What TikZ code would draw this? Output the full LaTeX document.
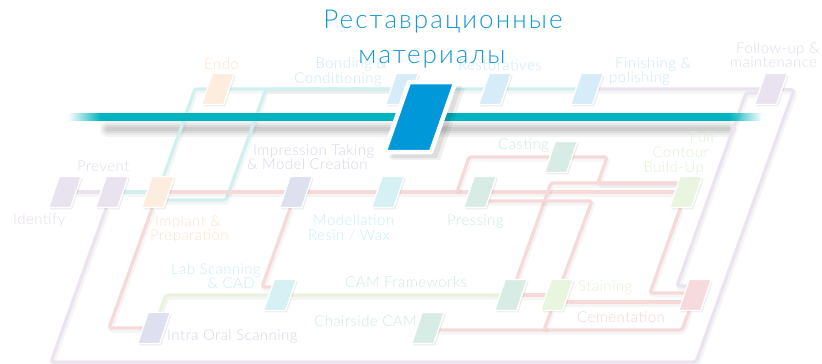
\documentclass[tikz,border=0pt]{standalone}
\usepackage{fontspec}
\setmainfont{Lato}
\newfontfamily\titlefont{Lato Light}[LetterSpace=8]
\newfontfamily\labfont{Lato Light}[LetterSpace=3]
\usetikzlibrary{calc,fadings}
% station fills
\definecolor{sLilac}{RGB}{233,227,239}
\definecolor{sPeach}{RGB}{253,237,222}
\definecolor{sBlue}{RGB}{214,236,248}
\definecolor{sLav}{RGB}{222,224,240}
\definecolor{sCyan}{RGB}{213,241,244}
\definecolor{sMint}{RGB}{215,236,228}
\definecolor{sGreen}{RGB}{233,245,223}
\definecolor{sPink}{RGB}{246,218,221}
% line colours
\definecolor{lLilac}{RGB}{235,228,240}
\definecolor{lTeal}{RGB}{208,240,240}
\definecolor{lRed}{RGB}{247,217,217}
\definecolor{lGreen}{RGB}{232,244,222}
% text colours
\definecolor{tLilac}{RGB}{226,218,234}
\definecolor{tPeach}{RGB}{252,226,204}
\definecolor{tBlue}{RGB}{204,230,248}
\definecolor{tLav}{RGB}{212,214,234}
\definecolor{tCyan}{RGB}{202,236,242}
\definecolor{tMint}{RGB}{206,232,222}
\definecolor{tGreen}{RGB}{226,241,212}
\definecolor{tPink}{RGB}{246,210,214}
% accents
\definecolor{cTitle}{RGB}{20,152,215}
\definecolor{cBar}{RGB}{0,180,191}
\definecolor{cMain}{RGB}{0,152,217}
\tikzfading[name=fadein, left color=transparent!100, right color=transparent!0]
\tikzfading[name=fadeout, left color=transparent!0, right color=transparent!100]
\pgfdeclarelayer{bg}
\pgfdeclarelayer{lines}
\pgfdeclarelayer{fg}
\pgfsetlayers{bg,lines,main,fg}
% station: name, x, y, fill colour
\newcommand\station[4]{%
  \node[stbox] (#1) at (#2,#3) {};
  \fill[black, opacity=0.07] (#2-4.2,#3-13.7) -- ++(22,0) -- ++(-10.6,31) -- ++(-22,0) -- cycle;
  \filldraw[fill=#4, draw=white, line width=1.3pt, line join=round]
    (#2-5.7,#3-15.5) -- ++(22,0) -- ++(-10.6,31) -- ++(-22,0) -- cycle;}
\begin{document}
\begin{tikzpicture}[x=1pt,y=-1pt,
  stbox/.style={rectangle, minimum width=22pt, minimum height=31pt, inner sep=0pt, draw=none},
  metro/.style={line width=3.3pt, rounded corners=2.5pt, line join=round,
    preaction={draw=black, draw opacity=0.04, line width=5pt,
      transform canvas={xshift=1.2pt,yshift=-2pt}}},
  lab/.style={font=\labfont\fontsize{15}{17}\selectfont, inner sep=0pt},
  ttl/.style={font=\titlefont\fontsize{26}{30}\selectfont, text=cTitle, inner sep=0pt, anchor=base}]
\useasboundingbox (0,0) rectangle (822,364);

% ---------- stations ----------
\station{identify}{65}{192}{sLilac}
\station{prevent}{112}{192}{sLilac}
\station{implant}{158}{192}{sPeach}
\station{endo}{218}{89}{sPeach}
\station{bonding}{402}{89}{sBlue}
\station{restor}{495}{89}{sBlue}
\station{finish}{587}{89}{sBlue}
\station{follow}{771}{89}{sLilac}
\station{impress}{296}{192}{sLav}
\station{model}{388}{192}{sCyan}
\station{press}{480}{192}{sMint}
\station{casting}{561}{157}{sMint}
\station{fullc}{686}{192}{sGreen}
\station{labscan}{280}{295}{sCyan}
\station{camfw}{511}{295}{sMint}
\station{stain}{557}{295}{sGreen}
\station{cement}{695}{295}{sPink}
\station{intra}{154}{328}{sLav}
\station{chair}{428}{328}{sMint}

\coordinate (j1) at (457,192);
\coordinate (j2) at (544,330);

% ---------- lines ----------
\begin{pgfonlayer}{lines}
% lilac
\draw[metro, lLilac] (identify) -- (prevent);
\draw[metro, lLilac] (finish) -- (follow) -- (794,90) -- (696,362) -- (51,362) -- (prevent);
\draw[metro, lLilac] ($(follow)+(0,4)$) -- (746,93) -- (677,286) -- ($(cement)+(0,-9)$);
% teal
\draw[metro, lTeal] (prevent) -- (implant);
\draw[metro, lTeal] (implant) -- (195,89) -- (endo) -- (bonding) -- (restor) -- (finish);
\draw[metro, lTeal] ($(implant)+(0,8)$) -- (226,200) -- (266,89) -- (bonding);
% red
\draw[metro, lRed] (implant) -- (impress) -- (model) -- (press) -- (fullc);
\draw[metro, lRed] (j1) -- (469,157) -- (casting) -- (607,157) -- (598,183) -- ($(fullc)+(0,-9)$);
\draw[metro, lRed] (camfw) -- (551,183) -- ($(fullc)+(0,-9)$);
\draw[metro, lRed] ($(press)+(0,9)$) -- (592,201) -- (stain);
\draw[metro, lRed] (fullc) -- (650,293) -- ($(cement)+(0,-2)$);
\draw[metro, lRed] (camfw) -- (stain);
\draw[metro, lRed] ($(stain)+(0,7)$) -- ($(cement)+(0,7)$);
\draw[metro, lRed] ($(chair)+(0,2)$) -- (682,330) -- (cement);
\draw[metro, lRed] (stain) -- (j2);
\draw[metro, lRed] (implant) -- (109,328) -- (intra);
\draw[metro, lRed] (impress) -- (262,287) -- ($(labscan)+(0,-8)$);
% green
\draw[metro, lGreen] (intra) -- (166,295) -- (labscan) -- (camfw);
\end{pgfonlayer}

% ---------- main bar ----------
\begin{pgfonlayer}{bg}
\foreach \w/\o in {16/0.045,12/0.05,8/0.06,4/0.06}
  \draw[line width=\w pt, black, opacity=\o, line cap=round] (108,129) -- (728,129);
\end{pgfonlayer}
\begin{pgfonlayer}{fg}
\fill[cBar] (100,113) rectangle (730,121);
\fill[cBar, path fading=fadein] (68,113) rectangle (100.5,121);
\fill[cBar, path fading=fadeout] (729.5,113) rectangle (762,121);
\node[rectangle, minimum width=47pt, minimum height=70pt, inner sep=0pt] (mainst) at (420,117) {};
\fill[black, opacity=0.08] (414,86) -- (462,86) -- (437,158) -- (389,158) -- cycle;
\fill[black, opacity=0.06] (416,88) -- (465,88) -- (440,160) -- (391,160) -- cycle;
\filldraw[fill=cMain, draw=white, line width=4.5pt, line join=round]
  (409,82) -- (455.5,82) -- (431,152) -- (384.5,152) -- cycle;

% ---------- labels ----------
\node[lab, text=tLilac, anchor=base west] (lIdentify) at (13,224) {Identify};
\node[lab, text=tLilac, anchor=base west] (lPrevent) at (77,171) {Prevent};
\node[lab, text=tPeach, anchor=base west] (lEndo) at (204,69) {Endo};
\node[lab, text=tBlue, anchor=base east] (lBond1) at (387,68) {Bonding \&};
\node[lab, text=tBlue, anchor=base east] (lBond2) at (382,83) {Conditioning};
\node[lab, text=tBlue, anchor=base west] (lRest) at (458,70) {Restoratives};
\node[lab, text=tBlue, anchor=base west] (lFin1) at (615,68) {Finishing \&};
\node[lab, text=tBlue, anchor=base west] (lFin2) at (609,82) {polishing};
\node[lab, text=tLilac, anchor=base west] (lFol1) at (736,53) {Follow-up \&};
\node[lab, text=tLilac, anchor=base west] (lFol2) at (730,67) {maintenance};
\node[lab, text=tLav, anchor=base west] (lImp1) at (253,155) {Impression Taking};
\node[lab, text=tLav, anchor=base west] (lImp2) at (247,169) {\& Model Creation};
\node[lab, text=tCyan, anchor=base west] (lMod1) at (313,225) {Modellation};
\node[lab, text=tCyan, anchor=base west] (lMod2) at (308,240) {Resin / Wax};
\node[lab, text=tMint, anchor=base west] (lPress) at (447,225) {Pressing};
\node[lab, text=tMint, anchor=base west] (lCast) at (498,149) {Casting};
\node[lab, text=tGreen, anchor=base east] (lFull1) at (714,142) {Full};
\node[lab, text=tGreen, anchor=base east] (lFull2) at (709,157) {Contour};
\node[lab, text=tGreen, anchor=base east] (lFull3) at (704,172) {Build-Up};
\node[lab, text=tPeach, anchor=base west] (lImpl1) at (155,226) {Implant \&};
\node[lab, text=tPeach, anchor=base west] (lImpl2) at (150,240) {Preparation};
\node[lab, text=tCyan, anchor=base east] (lLab1) at (261,274) {Lab Scanning};
\node[lab, text=tCyan, anchor=base east] (lLab2) at (255,288) {\& CAD};
\node[lab, text=tMint, anchor=base west] (lCam) at (345,287) {CAM Frameworks};
\node[lab, text=tLav, anchor=base west] (lIntra) at (167,340) {Intra Oral Scanning};
\node[lab, text=tMint, anchor=base east] (lChair) at (417,326) {Chairside CAM};
\node[lab, text=tGreen, anchor=base west] (lStain) at (578,291) {Staining};
\node[lab, text=tPink, anchor=base west] (lCem) at (577,322) {Cementation};

% ---------- title ----------
\node[ttl] (title1) at (443,28) {Реставрационные};
\node[ttl] (title2) at (432,63) {материалы};
\end{pgfonlayer}
\end{tikzpicture}
\end{document}
